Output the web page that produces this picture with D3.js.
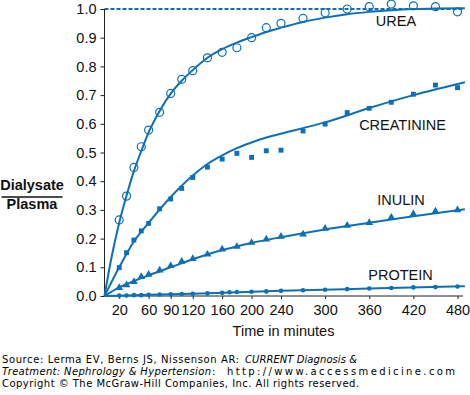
<!DOCTYPE html>
<html>
<head>
<meta charset="utf-8">
<script src="https://cdn.jsdelivr.net/npm/d3@7"></script>
<style>
  html, body { margin: 0; padding: 0; background: #fff; }
  svg { display: block; }
</style>
</head>
<body>
<svg id="chart" width="470" height="395"></svg>
<script>
// ---------- data ----------
const ureaTimes = [20,30,40,50,60,75,90,105,120,140,160,180,200,220,240,270,300,330,360,390,420,450,480];
const ureaValues = [0.265,0.348,0.448,0.52,0.578,0.64,0.706,0.755,0.785,0.83,0.849,0.865,0.90,0.935,0.95,0.967,0.987,1.0,1.008,1.017,1.011,1.008,0.99];

const creatinineTimes = [20,30,40,50,60,75,90,105,120,140,160,180,200,220,240,270,300,330,360,390,420,450,480];
const creatinineValues = [0.099,0.151,0.195,0.227,0.253,0.304,0.338,0.375,0.413,0.449,0.477,0.497,0.483,0.506,0.508,0.575,0.599,0.639,0.654,0.675,0.703,0.735,0.726];

const inulinTimes = [20,30,40,50,60,75,90,105,120,140,160,180,200,220,240,270,300,330,360,390,420,450,480];
const inulinValues = [0.029,0.038,0.05,0.067,0.075,0.09,0.105,0.12,0.13,0.145,0.163,0.172,0.186,0.198,0.207,0.215,0.235,0.246,0.255,0.274,0.286,0.295,0.30];

const proteinTimes = [20,30,40,50,60,75,90,105,120,140,160,170,180,200,220,240,270,300,330,360,390,420,450,480];
const proteinValues = [0.002,0.002,0.003,0.003,0.004,0.005,0.006,0.007,0.008,0.009,0.011,0.013,0.014,0.015,0.016,0.018,0.02,0.022,0.024,0.026,0.028,0.03,0.031,0.033];

// fitted curves
const ureaFitTimes = [0,10,20,30,40,50,60,75,90,105,120,140,160,180,200,220,240,270,300,330,360,390,420,450,490];
const ureaFitValues = [0,0.14,0.255,0.35,0.435,0.505,0.57,0.645,0.705,0.75,0.787,0.83,0.86,0.883,0.902,0.92,0.935,0.955,0.97,0.982,0.99,0.996,1.0,1.002,1.003];

const creatinineFitTimes = [0,20,40,60,90,120,140,160,180,200,220,250,270,300,360,420,490];
const creatinineFitValues = [0,0.10,0.19,0.255,0.345,0.42,0.46,0.49,0.515,0.535,0.552,0.572,0.585,0.605,0.655,0.70,0.745];

const inulinFitTimes = [0,20,40,60,90,120,160,200,240,300,360,420,490];
const inulinFitValues = [0,0.03,0.052,0.072,0.10,0.128,0.16,0.185,0.205,0.232,0.255,0.278,0.302];

const proteinFitTimes = [0,60,120,240,360,490];
const proteinFitValues = [0,0.004,0.008,0.018,0.026,0.034];

const xTickValues = [20,60,90,120,160,200,240,300,360,420,480];
const yTickValues = [0,0.1,0.2,0.3,0.4,0.5,0.6,0.7,0.8,0.9,1.0];

const seriesLabels = ["UREA","CREATININE","INULIN","PROTEIN"];
const xAxisTitle = "Time in minutes";
const yTitleTop = "Dialysate";
const yTitleBottom = "Plasma";

// ---------- layout ----------
const blue = "#0d6fb8";
const svg = d3.select("#chart");
const x = d3.scaleLinear().domain([0, 480]).range([104.5, 457.5]);
const y = d3.scaleLinear().domain([0, 1]).range([296, 9]);
const font = '"Liberation Sans", Arial, Helvetica, sans-serif';

// reference line at 1.0
svg.append("line")
  .attr("x1", x(0)).attr("x2", 463)
  .attr("y1", y(1)).attr("y2", y(1))
  .attr("stroke", blue).attr("stroke-width", 1.8)
  .attr("stroke-dasharray", "4,2");

// axes
const yAxis = d3.axisLeft(y).tickValues(yTickValues).tickFormat(d3.format(".1f")).tickSize(4).tickPadding(4);
const gy = svg.append("g").attr("transform", `translate(${x(0)},0)`).call(yAxis);
gy.select(".domain").attr("stroke", "#222").attr("stroke-width", 1).attr("d", `M-0,${y(0)}V${y(1)}`);
gy.selectAll(".tick line").attr("stroke", "#222");
gy.selectAll(".tick text").attr("font-size", 14.5).attr("fill", "#111").attr("font-family", font);

const xAxis = d3.axisBottom(x).tickValues(xTickValues).tickFormat(d3.format("d")).tickSize(3).tickPadding(6);
const gx = svg.append("g").attr("transform", `translate(0,${y(0)})`).call(xAxis);
gx.select(".domain").attr("stroke", "#222").attr("stroke-width", 1).attr("d", `M${x(0)},0H463`);
gx.selectAll(".tick line").attr("stroke", "#222");
gx.selectAll(".tick text").attr("font-size", 14.5).attr("fill", "#111").attr("font-family", font);

// fitted curves
const line = d3.line().x(d => x(d[0])).y(d => y(d[1])).curve(d3.curveMonotoneX);
const fits = [
  [ureaFitTimes, ureaFitValues],
  [creatinineFitTimes, creatinineFitValues],
  [inulinFitTimes, inulinFitValues],
  [proteinFitTimes, proteinFitValues]
];
fits.forEach(([t, v]) => {
  svg.append("path")
    .datum(t.map((ti, i) => [ti, v[i]]))
    .attr("d", line)
    .attr("fill", "none").attr("stroke", blue).attr("stroke-width", 2);
});

// markers
svg.append("g").selectAll("circle")
  .data(ureaTimes.map((t, i) => [t, ureaValues[i]]))
  .join("circle")
  .attr("cx", d => x(d[0])).attr("cy", d => y(d[1])).attr("r", 4)
  .attr("fill", "none").attr("stroke", blue).attr("stroke-width", 1.2);

const sq = d3.symbol().type(d3.symbolSquare).size(24);
svg.append("g").selectAll("path")
  .data(creatinineTimes.map((t, i) => [t, creatinineValues[i]]))
  .join("path")
  .attr("d", sq)
  .attr("transform", d => `translate(${x(d[0])},${y(d[1])})`)
  .attr("fill", blue);

const tri = d3.symbol().type(d3.symbolTriangle).size(26);
svg.append("g").selectAll("path")
  .data(inulinTimes.map((t, i) => [t, inulinValues[i]]))
  .join("path")
  .attr("d", tri)
  .attr("transform", d => `translate(${x(d[0])},${y(d[1])})`)
  .attr("fill", blue);

svg.append("g").selectAll("circle")
  .data(proteinTimes.map((t, i) => [t, proteinValues[i]]))
  .join("circle")
  .attr("cx", d => x(d[0])).attr("cy", d => y(d[1])).attr("r", 2.3)
  .attr("fill", blue);

// series labels
const labelPos = [[396, 26], [402.5, 129.5], [401, 205], [400.5, 280]];
seriesLabels.forEach((s, i) => {
  svg.append("text").attr("x", labelPos[i][0]).attr("y", labelPos[i][1])
    .attr("text-anchor", "middle").attr("font-family", font).attr("font-size", 14.5)
    .attr("fill", "#111").text(s);
});

// axis titles
svg.append("text").attr("x", 283.5).attr("y", 336).attr("text-anchor", "middle")
  .attr("font-family", font).attr("font-size", 14.5).attr("fill", "#111").text(xAxisTitle);

svg.append("text").attr("x", 32).attr("y", 190).attr("text-anchor", "middle")
  .attr("font-family", font).attr("font-size", 14.5).attr("font-weight", "bold").attr("fill", "#111").text(yTitleTop);
svg.append("line").attr("x1", 1.5).attr("x2", 62.5).attr("y1", 197).attr("y2", 197)
  .attr("stroke", "#111").attr("stroke-width", 1.6);
svg.append("text").attr("x", 32).attr("y", 209).attr("text-anchor", "middle")
  .attr("font-family", font).attr("font-size", 14.5).attr("font-weight", "bold").attr("fill", "#111").text(yTitleBottom);

// footer
const ffont = '"DejaVu Sans", Verdana, sans-serif';
function footerLine(yy) {
  return svg.append("text").attr("x", 2).attr("y", yy).attr("font-family", ffont)
    .attr("font-size", 10).attr("fill", "#000");
}
function seg(t, x0, len, text, italic) {
  const s = t.append("tspan").attr("x", x0).attr("textLength", len).attr("lengthAdjust", "spacing").text(text);
  if (italic) s.attr("font-style", "italic");
  return s;
}
const f1 = footerLine(363);
seg(f1, 2, 237, "Source: Lerma EV, Berns JS, Nissenson AR:", false);
seg(f1, 245, 112, "CURRENT Diagnosis &", true);
const f2 = footerLine(375);
seg(f2, 2, 209, "Treatment: Nephrology & Hypertension", true);
seg(f2, 212, 3, ":", false);
seg(f2, 227, 228, "http://www.accessmedicine.com", false);
const f3 = footerLine(387.3);
seg(f3, 2, 357, "Copyright \u00A9 The McGraw-Hill Companies, Inc. All rights reserved.", false);
</script>
</body>
</html>
